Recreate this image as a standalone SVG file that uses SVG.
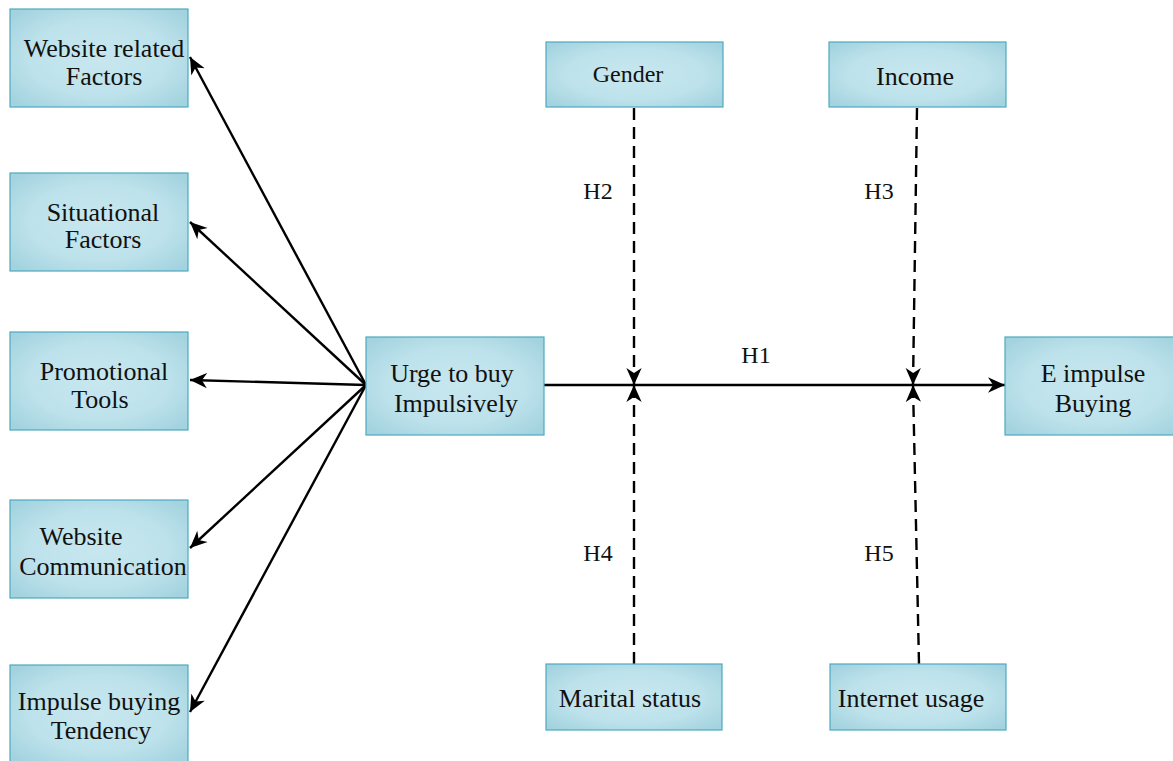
<svg xmlns="http://www.w3.org/2000/svg" width="1173" height="761" viewBox="0 0 1173 761">
<style>
.box{fill:url(#g);stroke:#4ea9c0;stroke-width:1.2}
.t{font-family:"Liberation Serif",serif;font-size:26px;fill:#111;text-anchor:middle}
.h{font-family:"Liberation Serif",serif;font-size:24px;fill:#111;text-anchor:middle}
.c{stroke:#000;stroke-width:2.4;fill:none}
.d{stroke:#000;stroke-width:2.4;fill:none;stroke-dasharray:12 7}
</style>
<defs>
<radialGradient id="g" cx="50%" cy="50%" r="65%">
<stop offset="0" stop-color="#c8e7ef"/>
<stop offset="0.6" stop-color="#bde2eb"/>
<stop offset="1" stop-color="#a3d3df"/>
</radialGradient>
<marker id="b" viewBox="0 0 10 10" refX="10" refY="5" markerWidth="17" markerHeight="17" markerUnits="userSpaceOnUse" orient="auto">
<path d="M0,0.5 L10,5 L0,9.5 L3,5 z" fill="#000"/>
</marker>
</defs>
<g id="connectors">
<line class="c" x1="366" y1="385" x2="190" y2="57" marker-end="url(#b)"/>
<line class="c" x1="366" y1="385" x2="190" y2="222" marker-end="url(#b)"/>
<line class="c" x1="366" y1="385" x2="190" y2="380" marker-end="url(#b)"/>
<line class="c" x1="366" y1="385" x2="190" y2="548" marker-end="url(#b)"/>
<line class="c" x1="366" y1="385" x2="190" y2="712" marker-end="url(#b)"/>
<line class="c" x1="544" y1="385" x2="1005" y2="385" marker-end="url(#b)"/>
<line class="d" x1="634" y1="108" x2="634" y2="385" marker-end="url(#b)"/>
<line class="d" x1="634" y1="664" x2="634" y2="385" marker-end="url(#b)"/>
<line class="d" x1="917" y1="108" x2="913" y2="385" marker-end="url(#b)"/>
<line class="d" x1="919" y1="664" x2="913" y2="385" marker-end="url(#b)"/>
<text class="h" x="756" y="363">H1</text>
<text class="h" x="598" y="199">H2</text>
<text class="h" x="879" y="199">H3</text>
<text class="h" x="598" y="561">H4</text>
<text class="h" x="879" y="561">H5</text>
</g>
<g id="n1"><rect class="box" x="10" y="9" width="178" height="98"/><text class="t" x="104" y="57">Website related</text><text class="t" x="104" y="85">Factors</text></g>
<g id="n2"><rect class="box" x="10" y="173" width="178" height="98"/><text class="t" x="103" y="221">Situational</text><text class="t" x="103" y="248">Factors</text></g>
<g id="n3"><rect class="box" x="10" y="332" width="178" height="98"/><text class="t" x="104" y="380">Promotional</text><text class="t" x="100" y="408">Tools</text></g>
<g id="n4"><rect class="box" x="10" y="500" width="178" height="98"/><text class="t" x="81" y="545">Website</text><text class="t" x="103" y="575">Communication</text></g>
<g id="n5"><rect class="box" x="10" y="665" width="178" height="98"/><text class="t" x="99" y="710">Impulse buying</text><text class="t" x="101" y="739">Tendency</text></g>
<g id="n6"><rect class="box" x="366" y="337" width="178" height="98"/><text class="t" x="452" y="382">Urge to buy</text><text class="t" x="456" y="412">Impulsively</text></g>
<g id="n7"><rect class="box" x="1005" y="337" width="178" height="98"/><text class="t" x="1093" y="382">E impulse</text><text class="t" x="1093" y="412">Buying</text></g>
<g id="n8"><rect class="box" x="546" y="42" width="177" height="65"/><text class="t" x="628" y="82" style="font-size:24px">Gender</text></g>
<g id="n9"><rect class="box" x="829" y="42" width="177" height="65"/><text class="t" x="915" y="85">Income</text></g>
<g id="n10"><rect class="box" x="546" y="664" width="176" height="66"/><text class="t" x="630" y="707">Marital status</text></g>
<g id="n11"><rect class="box" x="830" y="664" width="176" height="66"/><text class="t" x="911" y="707">Internet usage</text></g>
</svg>
